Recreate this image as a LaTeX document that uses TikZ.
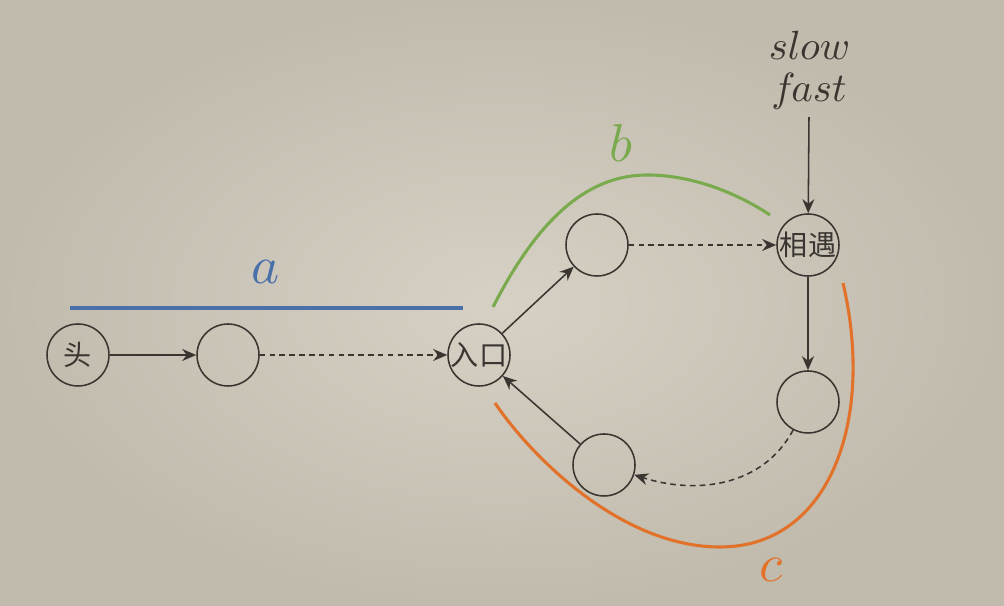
\RequirePackage{fix-cm}
\documentclass[tikz,border=0pt]{standalone}
\usepackage{fontspec}
\newfontfamily\cjk{Noto Sans CJK SC}
\font\bigmi=cmmi10 at 38pt
\font\ptrmi=cmmi10 at 29pt
\usepackage{xcolor}
\usepackage{tikz}
\usetikzlibrary{shapes,arrows.meta}
\definecolor{bgin}{RGB}{214,209,196}
\definecolor{bgout}{RGB}{193,187,174}
\definecolor{ink}{RGB}{58,53,48}
\definecolor{blueA}{RGB}{74,112,170}
\definecolor{greenB}{RGB}{122,170,78}
\definecolor{orangeC}{RGB}{226,114,42}
\tikzstyle{circ} = [circle, draw=ink, line width=1.1pt, minimum size=1.55cm, inner sep=0pt, text=ink, font=\cjk\fontsize{20}{20}\selectfont]
\tikzstyle{line} = [draw=ink, line width=1.1pt, -{Stealth[length=10pt,width=8.5pt]}]
\tikzstyle{dline} = [line, dash pattern=on 4pt off 3pt]
\tikzstyle{span} = [line width=2.2pt]
\tikzstyle{lbl} = [font=\bigmi]
\tikzstyle{ptr} = [anchor=base, text=ink, inner sep=5pt, font=\ptrmi]

\begin{document}
\begin{tikzpicture}
\fill [inner color=bgin, outer color=bgout] (0,0) rectangle (25.1,15.15);
\node [circ] (head) at (1.95,6.275) {头};
\node [circ] (n1) at (5.7,6.275) {};
\node [circ] (entry) at (11.975,6.275) {入口};
\node [circ] (up) at (14.925,9.025) {};
\node [circ] (meet) at (20.2,9.025) {相遇};
\node [circ] (down) at (20.2,5.1) {};
\node [circ] (back) at (15.1,3.525) {};
\node [ptr] (slow) at (20.225,13.65) {slow};
\node [ptr] (fast) at (20.225,12.6) {fast};
\path [line] (head) -- (n1);
\path [dline] (n1) -- (entry);
\path [line] (entry) -- (up);
\path [dline] (up) -- (meet);
\path [line] (fast.south) -- (meet);
\path [line] (meet) -- (down);
\path [dline] (down) to[out=-118,in=-18] (back);
\path [line] (back) -- (entry);
% a, b, c
\coordinate (a0) at (1.75,7.45);
\coordinate (a1) at (11.575,7.45);
\draw [span, blueA] (a0) -- (a1);
\node [lbl, text=blueA] (a) at (6.65,8.35) {a};
\coordinate (b0) at (12.325,7.475);
\coordinate (b1) at (19.25,9.775);
\draw [span, greenB] (b0) .. controls (13.5,9.775) and (14.75,10.775) .. (16.175,10.775)
  .. controls (17.375,10.775) and (18.5,10.275) .. (b1);
\node [lbl, text=greenB] (b) at (15.525,11.575) {b};
\coordinate (c0) at (12.375,5.075);
\coordinate (c1) at (21.075,8.075);
\draw [span, orangeC] (c0) .. controls (13.25,3.775) and (15.5,1.475) .. (18,1.475)
  .. controls (20.75,1.475) and (21.875,4.65) .. (c1);
\node [lbl, text=orangeC] (c) at (19.275,0.9) {c};
\end{tikzpicture}
\end{document}
